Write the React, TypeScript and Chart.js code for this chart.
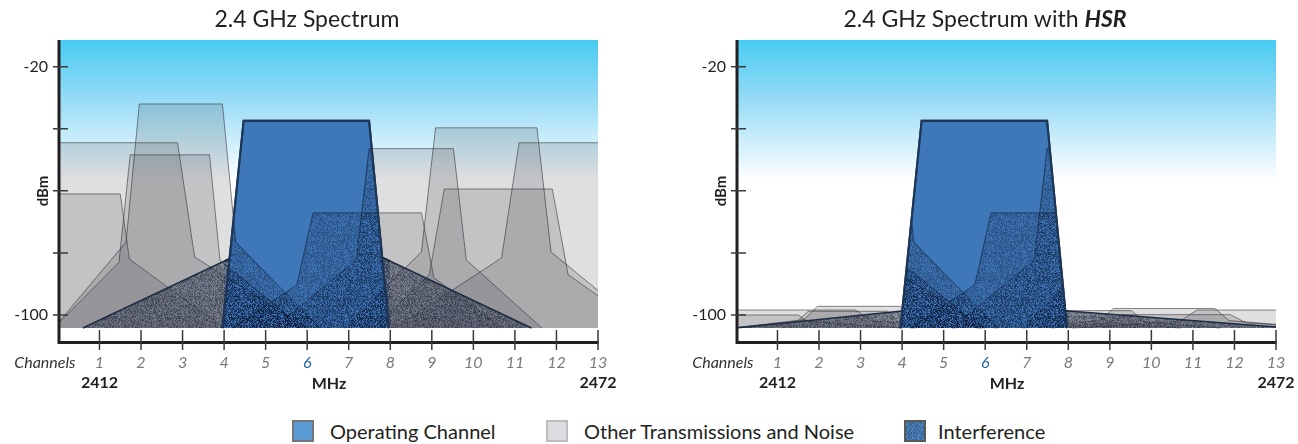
import React, { useEffect, useRef } from 'react';
import { Chart, registerables } from 'chart.js';

type Pt = [number, number];

const FONT = 'Lato, "Open Sans", sans-serif';

// ---- axes / text data ----
const CHANNELS = [1, 2, 3, 4, 5, 6, 7, 8, 9, 10, 11, 12, 13];
const HIGHLIGHT_CHANNEL = 6;
const CHANNEL_RANGE = [0.05, 13];
const DBM_RANGE = [-108.7, -11.4];
const DBM_TICKS = [-20, -40, -60, -80, -100];
const DBM_TICK_LABELS = ['-20', '', '', '', '-100'];
const FREQ_CHANNELS = [1, 13];
const FREQ_LABELS = ['2412', '2472'];
const AXIS_TITLES = ['Channels', 'MHz', 'dBm'];
const CHART_TITLES = ['2.4 GHz Spectrum', '2.4 GHz Spectrum with '];
const HSR_WORD = 'HSR';
const LEGEND_LABELS = ['Operating Channel', 'Other Transmissions and Noise', 'Interference'];

// ---- spectrum data (channel, dBm) ----
const NOISE_FLOOR = -104.2;
const BAND = [4, 8];

const OPERATING: Pt[] = [[3.96, -104.2], [4.47, -37.4], [7.49, -37.4], [7.97, -104.2]];
const SIDELOBE: Pt[] = [[0.6, -104.2], [6, -70], [11.4, -104.2]];
const SIDELOBE_HSR: Pt[] = [[0, -104.2], [4, -98.7], [8, -98.7], [13.3, -104.2]];

const OTHER_A: Pt[] = [[-0.1, -104.2], [1.64, -76.5], [1.96, -32], [3.96, -32], [4.28, -76.5], [6.3, -104.2]];
const OTHER_B: Pt[] = [[0, -44.5], [2.88, -44.5], [3.29, -81.3], [6.0, -104.2]];
const OTHER_C: Pt[] = [[-0.1, -104.2], [1.47, -83], [1.74, -48.4], [3.65, -48.4], [3.9, -82.3], [5.9, -104.2]];
const OTHER_D: Pt[] = [[0, -61], [1.5, -61], [1.72, -82], [4.0, -104.2]];
const OTHER_E: Pt[] = [[6.9, -104.2], [8.75, -79.7], [9.09, -39.7], [11.53, -39.7], [11.87, -79.7], [14.1, -104.2]];
const OTHER_F: Pt[] = [[8.1, -104.2], [10.68, -81.6], [11.1, -44.5], [13.2, -44.5]];
const OTHER_G: Pt[] = [[5.2, -104.2], [7.18, -82.3], [7.49, -46.4], [9.52, -46.4], [9.83, -82.3], [11.65, -104.2]];
const OTHER_H: Pt[] = [[7.6, -104.2], [8.94, -87], [9.3, -59.4], [11.9, -59.4], [12.28, -87], [14.1, -104.2]];
const OTHER_I: Pt[] = [[4.2, -104.2], [5.75, -90.3], [6.14, -67.1], [8.75, -67.1], [9.05, -88], [10.7, -104.2]];

const OTHER_A_HSR: Pt[] = [[-0.1, -104.2], [1.64, -101.5], [1.96, -97.2], [3.96, -97.2], [4.28, -101.5], [6.3, -104.2]];
const OTHER_B_HSR: Pt[] = [[0, -98.4], [2.88, -98.4], [3.29, -102.0], [6.0, -104.2]];
const OTHER_C_HSR: Pt[] = [[-0.1, -104.2], [1.47, -102.1], [1.74, -98.8], [3.65, -98.8], [3.9, -102.1], [5.9, -104.2]];
const OTHER_D_HSR: Pt[] = [[0, -100.0], [1.5, -100.0], [1.72, -102.0], [4.0, -104.2]];
const OTHER_E_HSR: Pt[] = [[6.9, -104.2], [8.75, -101.8], [9.09, -97.9], [11.53, -97.9], [11.87, -101.8], [14.1, -104.2]];
const OTHER_F_HSR: Pt[] = [[8.1, -104.2], [10.68, -102.0], [11.1, -98.4], [13.2, -98.4]];
const OTHER_G_HSR: Pt[] = [[5.2, -104.2], [7.18, -102.1], [7.49, -98.6], [9.52, -98.6], [9.83, -102.1], [11.65, -104.2]];
const OTHER_H_HSR: Pt[] = [[7.6, -104.2], [8.94, -102.5], [9.3, -99.9], [11.9, -99.9], [12.28, -102.5], [14.1, -104.2]];
const OTHER_I_HSR: Pt[] = [[4.2, -104.2], [5.75, -102.9], [6.14, -100.6], [8.75, -100.6], [9.05, -102.6], [10.7, -104.2]];

const OTHERS = [OTHER_A, OTHER_B, OTHER_C, OTHER_D, OTHER_E, OTHER_F, OTHER_G, OTHER_H, OTHER_I];
const OTHERS_HSR = [OTHER_A_HSR, OTHER_B_HSR, OTHER_C_HSR, OTHER_D_HSR, OTHER_E_HSR, OTHER_F_HSR, OTHER_G_HSR, OTHER_H_HSR, OTHER_I_HSR];

// ---- textures (deterministic speckle) ----
const BLUE_TEX = [[62, 112, 176, 72], [5, 15, 36, 96], [16, 36, 72, 82], [32, 62, 112, 76]];
const SLATE_TEX = [[92, 100, 124, 150], [24, 30, 48, 170], [44, 52, 74, 160], [64, 72, 96, 156]];

function hash(n: number) {
  const s = Math.sin(n * 12.9898 + 78.233) * 43758.5453;
  return s - Math.floor(s);
}
function makeTexture(palette: number[][]): HTMLCanvasElement {
  const size = 64;
  const c = document.createElement('canvas');
  c.width = size;
  c.height = size;
  const g = c.getContext('2d')!;
  const img = g.createImageData(size, size);
  for (let i = 0; i < size * size; i++) {
    const r = hash(i + 1);
    const col = palette[Math.min(palette.length - 1, Math.floor(r * palette.length))];
    img.data[i * 4] = col[0];
    img.data[i * 4 + 1] = col[1];
    img.data[i * 4 + 2] = col[2];
    img.data[i * 4 + 3] = col[3];
  }
  g.putImageData(img, 0, 0);
  return c;
}
function makePattern(palette: number[][]): CanvasPattern {
  const c = makeTexture(palette);
  return c.getContext('2d')!.createPattern(c, 'repeat')!;
}

// ---- plugins ----
const shapeClip = {
  id: 'shapeClip',
  beforeDatasetDraw(chart: any, args: any) {
    const ds: any = chart.data.datasets[args.index];
    if (!ds.clipTo) return;
    const { ctx, chartArea: a } = chart;
    const xs = chart.scales.x;
    const ys = chart.scales.y;
    ctx.save();
    ctx.beginPath();
    if (ds.clipTo === 'band') {
      const l = xs.getPixelForValue(BAND[0]);
      const r = xs.getPixelForValue(BAND[1]);
      ctx.rect(l, a.top, r - l, a.bottom - a.top);
    } else {
      OPERATING.forEach(([x, y], i) => {
        const px = xs.getPixelForValue(x);
        const py = ys.getPixelForValue(y);
        if (i) ctx.lineTo(px, py);
        else ctx.moveTo(px, py);
      });
      ctx.closePath();
    }
    ctx.clip();
  },
  afterDatasetDraw(chart: any, args: any) {
    const ds: any = chart.data.datasets[args.index];
    if (ds.clipTo) chart.ctx.restore();
  },
};
Chart.register(shapeClip as any);
Chart.register(...registerables);

const decor = {
  id: 'decor',
  beforeDatasetsDraw(chart: any) {
    const { ctx, chartArea: a } = chart;
    const y = chart.scales.y;
    const floor = y.getPixelForValue(NOISE_FLOOR);
    const g = ctx.createLinearGradient(0, a.top, 0, a.top + 140);
    g.addColorStop(0, '#47cbf2');
    g.addColorStop(0.4, '#93daf5');
    g.addColorStop(1, '#ffffff');
    ctx.save();
    ctx.fillStyle = g;
    ctx.fillRect(a.left, a.top, a.right - a.left, floor - a.top);
    ctx.restore();
  },
  afterDatasetsDraw(chart: any) {
    const { ctx, chartArea: a } = chart;
    const x = chart.scales.x;
    const y = chart.scales.y;
    ctx.save();
    ctx.strokeStyle = '#231f20';
    ctx.lineWidth = 3;
    ctx.beginPath();
    ctx.moveTo(a.left - 1, a.top);
    ctx.lineTo(a.left - 1, a.bottom + 2);
    ctx.moveTo(a.left - 2.5, a.bottom + 0.5);
    ctx.lineTo(a.right + 0.5, a.bottom + 0.5);
    ctx.stroke();
    ctx.lineWidth = 1.5;
    ctx.strokeStyle = '#3a3a3a';
    ctx.beginPath();
    CHANNELS.forEach((c) => {
      const px = x.getPixelForValue(c);
      ctx.moveTo(px, a.bottom - 12);
      ctx.lineTo(px, a.bottom + 8);
    });
    DBM_TICKS.forEach((v) => {
      const py = y.getPixelForValue(v);
      ctx.moveTo(a.left - 7, py);
      ctx.lineTo(a.left + 8, py);
    });
    ctx.stroke();
    const labelY = a.bottom + 11 + 9.6;
    ctx.fillStyle = '#333333';
    ctx.font = `italic 16px ${FONT}`;
    ctx.textAlign = 'right';
    ctx.textBaseline = 'middle';
    ctx.fillText(AXIS_TITLES[0], x.getPixelForValue(CHANNELS[0]) - 24, labelY);
    ctx.font = `bold 16px ${FONT}`;
    ctx.textAlign = 'center';
    ctx.fillStyle = '#231f20';
    FREQ_LABELS.forEach((t, i) => ctx.fillText(t, x.getPixelForValue(FREQ_CHANNELS[i]), a.bottom + 41));
    ctx.restore();
  },
};

// ---- datasets ----
const GRAY_FILL = 'rgba(25,27,35,0.14)';
const GRAY_LINE = 'rgba(55,55,60,0.6)';
const BLUE_FILL = '#3f78b8';
const BLUE_LINE = '#1e3656';

function area(pts: Pt[], fill: any, line: string, width: number) {
  return {
    data: pts.map(([x, y]) => ({ x, y })),
    backgroundColor: fill,
    borderColor: line,
    borderWidth: width,
    fill: { value: NOISE_FLOOR },
    pointRadius: 0,
    tension: 0,
  };
}

function buildDatasets(hsr: boolean, blueTex: CanvasPattern, slateTex: CanvasPattern) {
  const others = hsr ? OTHERS_HSR : OTHERS;
  const side = hsr ? SIDELOBE_HSR : SIDELOBE;
  const list: any[] = [];
  others.forEach((p) => list.push(area(p, GRAY_FILL, GRAY_LINE, 1)));
  list.push(area(side, slateTex, '#1d2c44', 1.5));
  list.push({ ...area(side, blueTex, 'rgba(8,20,40,0.7)', 1.5), clipTo: 'band' });
  list.push(area(OPERATING, BLUE_FILL, BLUE_LINE, 2));
  OTHERS.forEach((p) => list.push({ ...area(p, blueTex, 'rgba(8,20,40,0.55)', 1), clipTo: 'channel' }));
  list.push({ ...area(OPERATING, 'rgba(0,0,0,0)', BLUE_LINE, 2), fill: false });
  return list.map((d, i) => ({ ...d, order: -i }));
}

function buildConfig(hsr: boolean): any {
  const blueTex = makePattern(BLUE_TEX);
  const slateTex = makePattern(SLATE_TEX);
  return {
    type: 'line',
    data: { datasets: buildDatasets(hsr, blueTex, slateTex) },
    options: {
      animation: false,
      responsive: false,
      events: [],
      layout: { padding: { top: 40, right: 22, bottom: 0, left: 0 } },
      plugins: { legend: { display: false }, tooltip: { enabled: false }, title: { display: false } },
      scales: {
        x: {
          type: 'linear',
          min: CHANNEL_RANGE[0],
          max: CHANNEL_RANGE[1],
          grid: { display: false, drawTicks: false },
          border: { display: false },
          afterBuildTicks: (s: any) => {
            s.ticks = CHANNELS.map((v) => ({ value: v }));
          },
          afterFit: (s: any) => {
            s.height = 58;
          },
          ticks: {
            autoSkip: false,
            maxRotation: 0,
            padding: 11,
            font: { family: FONT, size: 16, style: 'italic' },
            color: (c: any) => (c.tick && c.tick.value === HIGHLIGHT_CHANNEL ? '#27679f' : '#7a7a7a'),
            callback: (v: any) => String(v),
          },
          title: {
            display: true,
            text: AXIS_TITLES[1],
            color: '#231f20',
            font: { family: FONT, size: 16, weight: 'bold' },
            padding: { top: 0, bottom: 7 },
          },
        },
        y: {
          type: 'linear',
          min: DBM_RANGE[0],
          max: DBM_RANGE[1],
          grid: { display: false, drawTicks: false },
          border: { display: false },
          afterBuildTicks: (s: any) => {
            s.ticks = DBM_TICKS.map((v) => ({ value: v }));
          },
          afterFit: (s: any) => {
            s.width = 60;
          },
          ticks: {
            padding: 12,
            font: { family: FONT, size: 16 },
            color: '#231f20',
            callback: (v: any) => DBM_TICK_LABELS[DBM_TICKS.indexOf(v)] ?? '',
          },
          title: {
            display: true,
            text: AXIS_TITLES[2],
            color: '#231f20',
            font: { family: FONT, size: 15, weight: 'bold' },
            padding: { top: 34, bottom: 0 },
          },
        },
      },
    },
    plugins: [decor],
  };
}

function SpectrumChart({ hsr }: { hsr: boolean }) {
  const ref = useRef<HTMLCanvasElement>(null);
  useEffect(() => {
    const chart = new Chart(ref.current!, buildConfig(hsr));
    return () => chart.destroy();
  }, [hsr]);
  return <canvas ref={ref} width={620} height={400} style={{ display: 'block', width: 620, height: 400 }} />;
}

function TextureSwatch() {
  const ref = useRef<HTMLCanvasElement>(null);
  useEffect(() => {
    const c = ref.current!;
    const g = c.getContext('2d')!;
    g.fillStyle = '#5592cc';
    g.fillRect(0, 0, c.width, c.height);
    g.fillStyle = g.createPattern(makeTexture(BLUE_TEX), 'repeat')!;
    g.fillRect(0, 0, c.width, c.height);
  }, []);
  return <canvas ref={ref} width={18} height={18} style={{ display: 'block', width: 18, height: 18 }} />;
}

const swatchBase: React.CSSProperties = {
  position: 'absolute',
  top: 420,
  width: 22,
  height: 22,
  boxSizing: 'border-box',
};
const legendText: React.CSSProperties = {
  position: 'absolute',
  top: 419,
  fontSize: 20,
  lineHeight: '24px',
  whiteSpace: 'nowrap',
};
const titleStyle: React.CSSProperties = {
  position: 'absolute',
  top: 4,
  width: 614,
  textAlign: 'center',
  fontSize: 23,
  lineHeight: '28px',
};

export default function App() {
  return (
    <div
      style={{
        position: 'absolute',
        left: 0,
        top: 0,
        width: 1298,
        height: 444,
        background: '#ffffff',
        fontFamily: FONT,
        color: '#231f20',
        overflow: 'hidden',
      }}
    >
      <div style={{ position: 'absolute', left: 0, top: 0 }}>
        <SpectrumChart hsr={false} />
      </div>
      <div style={{ position: 'absolute', left: 678, top: 0 }}>
        <SpectrumChart hsr={true} />
      </div>
      <div style={{ ...titleStyle, left: 0 }}>{CHART_TITLES[0]}</div>
      <div style={{ ...titleStyle, left: 678 }}>
        {CHART_TITLES[1]}
        <b>
          <i>{HSR_WORD}</i>
        </b>
      </div>
      <div style={{ ...swatchBase, left: 292, background: '#5b9cd6', border: '2px solid #767676' }} />
      <div style={{ ...legendText, left: 330 }}>{LEGEND_LABELS[0]}</div>
      <div style={{ ...swatchBase, left: 546, background: '#dcdde0', border: '2px solid #bdbdbf' }} />
      <div style={{ ...legendText, left: 584 }}>{LEGEND_LABELS[1]}</div>
      <div style={{ ...swatchBase, left: 904, border: '2px solid #5a5a5a' }}>
        <TextureSwatch />
      </div>
      <div style={{ ...legendText, left: 938 }}>{LEGEND_LABELS[2]}</div>
    </div>
  );
}
